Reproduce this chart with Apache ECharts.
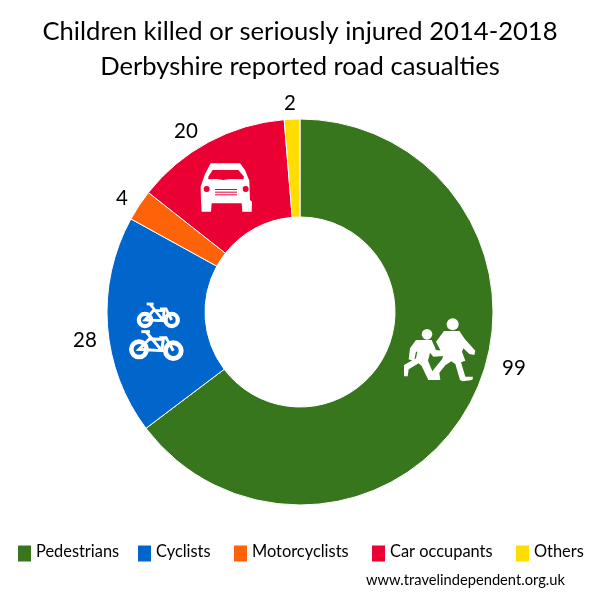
<!DOCTYPE html>
<html><head><meta charset="utf-8"><style>html,body{margin:0;background:#fff}#c{width:600px;height:600px}</style>
<script src="https://cdn.jsdelivr.net/npm/echarts@6/dist/echarts.min.js"></script></head><body><div id="c"></div>
<script>
const categories = ['Pedestrians','Cyclists','Motorcyclists','Car occupants','Others'];
const values = [99,28,4,20,2];
const colors = ['#38761D','#0066CC','#FF6309','#EA0033','#FFDD00'];
const labelCentres = [[514,368],[85,340],[122,198],[186,131],[290,103]];
const legendLefts = [18,138,234,372,516];
const FONT = 'Lato';

const W = '#fff';
// Icons are traced in 3x zoom coordinates relative to an origin
function tr(o, pts){ return pts.map(p=>[o[0]+p[0]/3, o[1]+p[1]/3]); }
function poly(o, pts, fill){ return {type:'polygon', z:10, shape:{points:tr(o,pts)}, style:{fill:fill||W}, silent:true}; }
function circ(o, c, r, fill){ return {type:'circle', z:10, shape:{cx:o[0]+c[0]/3, cy:o[1]+c[1]/3, r:r}, style:{fill:fill||W}, silent:true}; }
function ring(o, c, r, r0){ return {type:'ring', z:10, shape:{cx:o[0]+c[0]/3, cy:o[1]+c[1]/3, r:r, r0:r0}, style:{fill:W}, silent:true}; }
function pl(o, pts, w){ return {type:'polyline', z:10, shape:{points:tr(o,pts)}, style:{stroke:W, fill:null, lineWidth:w||2}, silent:true}; }

const oK=[380,300], oB=[120,290], oC=[190,150], RED=colors[3];
const icons = [
  // children
  circ(oK,[218,73],6),
  poly(oK,[[192,93],[238,93],[255,118],[286,152],[283,165],[268,162],[250,145],[246,155],[256,182],[243,187],[256,230],[279,230],[277,240],[248,244],[240,240],[226,192],[214,184],[196,196],[178,218],[181,240],[148,240],[150,222],[186,178],[194,155],[190,168],[168,125]]),
  circ(oK,[141,103],5.3),
  poly(oK,[[108,120],[155,120],[168,150],[192,152],[192,168],[160,170],[150,158],[144,182],[168,240],[145,240],[125,198],[116,190],[86,208],[83,229],[72,229],[72,195],[108,175],[112,155],[108,155],[102,184],[86,178],[90,145]]),
  // bicycles: top
  ring(oB,[75,90],8.3,4), ring(oB,[155,90],8.3,4),
  pl(oB,[[80,42],[101,42]],2.8), pl(oB,[[90,42],[130,92],[75,90],[100,62],[132,62],[130,92]],2.8),
  pl(oB,[[120,57],[138,57],[155,90]],2.8),
  // bicycles: bottom
  ring(oB,[57,178],10,5.4), ring(oB,[160,182],10.3,5.4),
  pl(oB,[[64,125],[90,125]],3), pl(oB,[[78,125],[125,182],[57,178],[88,147],[130,148],[125,182]],3),
  pl(oB,[[118,143],[138,143],[160,182]],3),
  // car
  poly(oC,[[62,40],[150,40],[165,60],[178,92],[180,150],[186,155],[185,185],[157,185],[155,160],[65,160],[63,185],[35,185],[33,150],[32,110],[45,72]]),
  poly(oC,[[68,60],[145,60],[162,80],[160,88],[120,87],[100,90],[80,87],[55,88],[55,80]],RED),
  circ(oC,[50,117],3,RED), circ(oC,[167,117],3,RED),
  {type:'rect',z:10,shape:{x:oC[0]+75/3,y:oC[1]+117/3,width:22,height:1},style:{fill:RED},silent:true},
  {type:'rect',z:10,shape:{x:oC[0]+75/3,y:oC[1]+125/3,width:22,height:1},style:{fill:RED},silent:true},
  {type:'rect',z:10,shape:{x:oC[0]+75/3,y:oC[1]+133/3,width:22,height:1},style:{fill:RED},silent:true}
];

const chart = echarts.init(document.getElementById('c'), null, {renderer:'canvas'});
chart.setOption({
  animation:false,
  color:colors,
  title:[
    {text:'Children killed or seriously injured 2014-2018\nDerbyshire reported road casualties', left:295, textAlign:'center', top:9,
     textStyle:{fontFamily:FONT,fontSize:25.6,fontWeight:'normal',color:'#000',lineHeight:35}},
    {text:'www.travelindependent.org.uk', left:361, top:568, textStyle:{fontFamily:FONT,fontSize:14.7,fontWeight:'normal',color:'#000'}}
  ],
  legend: categories.map((n,i)=>({
    data:[n], left:legendLefts[i], top:544, padding:0, itemWidth:13, itemHeight:16, icon:'rect', itemGap:0, symbolKeepAspect:false,
    itemStyle:{borderWidth:0},
    formatter:'{a|{name}}',
    textStyle:{rich:{a:{fontFamily:FONT,fontSize:16.4,color:'#000',padding:[0,0,3,0]}}}
  })),
  graphic:icons,
  series:[{
    type:'pie', center:[300,312], radius:[95,193], startAngle:90, clockwise:true, avoidLabelOverlap:false,
    data:categories.map((n,i)=>({name:n,value:values[i]})),
    itemStyle:{borderColor:'#fff',borderWidth:1},
    label:{show:true,position:'outside',formatter:'{c}',fontFamily:FONT,fontSize:20.5,color:'#000'},
    labelLine:{show:false},
    emphasis:{disabled:true},
    labelLayout:(p)=>{const c=labelCentres[p.dataIndex];return {x:c[0],y:c[1],align:'center',verticalAlign:'middle'};}
  }]
});
</script></body></html>
